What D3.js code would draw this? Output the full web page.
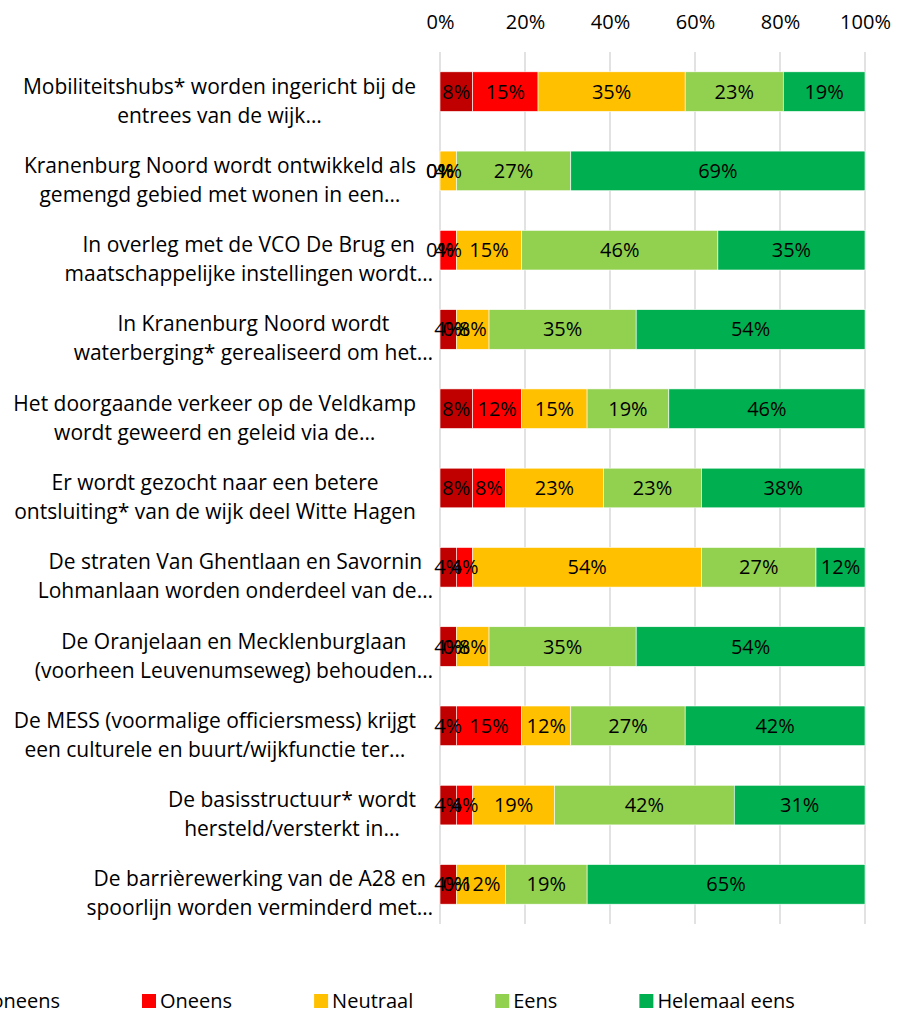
<!DOCTYPE html>
<html>
<head>
<meta charset="utf-8">
<script src="https://cdn.jsdelivr.net/npm/d3@7"></script>
<style>
  body { margin: 0; background: #fff; }
  svg { font-family: "Open Sans", Lato, sans-serif; }
</style>
</head>
<body>
<div id="container"></div>
<script>
/* DATA */
const categories = [
  ["Mobiliteitshubs* worden ingericht bij de", "entrees van de wijk…"],
  ["Kranenburg Noord wordt ontwikkeld als", "gemengd gebied met wonen in een…"],
  ["In overleg met de VCO De Brug en", "maatschappelijke instellingen wordt…"],
  ["In Kranenburg Noord wordt", "waterberging* gerealiseerd om het…"],
  ["Het doorgaande verkeer op de Veldkamp", "wordt geweerd en geleid via de…"],
  ["Er wordt gezocht naar een betere", "ontsluiting* van de wijk deel Witte Hagen"],
  ["De straten Van Ghentlaan en Savornin", "Lohmanlaan worden onderdeel van de…"],
  ["De Oranjelaan en Mecklenburglaan", "(voorheen Leuvenumseweg) behouden…"],
  ["De MESS (voormalige officiersmess) krijgt", "een culturele en buurt/wijkfunctie ter…"],
  ["De basisstructuur* wordt", "hersteld/versterkt in…"],
  ["De barrièrewerking van de A28 en", "spoorlijn worden verminderd met…"]
];
const seriesNames = ["Helemaal oneens", "Oneens", "Neutraal", "Eens", "Helemaal eens"];
const colors = ["#C00000", "#FF0000", "#FFC000", "#92D050", "#00B050"];

const helemaalOneens = [7.69, 0, 0, 3.85, 7.69, 7.69, 3.85, 3.85, 3.85, 3.85, 3.85];
const oneens         = [15.38, 0, 3.85, 0, 11.54, 7.69, 3.85, 0, 15.38, 3.85, 0];
const neutraal       = [34.62, 3.85, 15.38, 7.69, 15.38, 23.08, 53.85, 7.69, 11.54, 19.23, 11.54];
const eens           = [23.08, 26.92, 46.15, 34.62, 19.23, 23.08, 26.92, 34.62, 26.92, 42.31, 19.23];
const helemaalEens   = [19.23, 69.23, 34.62, 53.85, 46.15, 38.46, 11.54, 53.85, 42.31, 30.77, 65.38];

const tickValues = [0, 20, 40, 60, 80, 100];

/* CONSTANTS */
const width = 900, height = 1012;
const plotLeft = 440, plotRight = 865, plotTop = 52, plotBottom = 924;
const fontSize = 20;

const allSeries = [helemaalOneens, oneens, neutraal, eens, helemaalEens];
const rows = categories.map((c, i) => {
  const r = { idx: i };
  seriesNames.forEach((s, j) => r[s] = allSeries[j][i]);
  return r;
});

const svg = d3.select("#container").append("svg")
  .attr("width", width)
  .attr("height", height);

/* SCALES */
const xScale = d3.scaleLinear().domain([0, 100]).range([plotLeft, plotRight]);
const yScale = d3.scaleBand()
  .domain(rows.map(d => d.idx))
  .range([plotTop, plotBottom])
  .paddingInner(0.5)
  .paddingOuter(0.25);

// gridlines
svg.append("g").selectAll("line")
  .data(tickValues)
  .join("line")
  .attr("x1", d => xScale(d)).attr("x2", d => xScale(d))
  .attr("y1", plotTop).attr("y2", plotBottom)
  .attr("stroke", "#D9D9D9")
  .attr("stroke-width", 1.5);

// top axis
const xAxis = d3.axisTop(xScale)
  .tickValues(tickValues)
  .tickSize(0)
  .tickPadding(9)
  .tickFormat(d => d + "%");

svg.append("g")
  .attr("transform", "translate(0,38)")
  .call(xAxis)
  .call(g => g.select(".domain").remove())
  .selectAll("text")
  .attr("font-family", "'Open Sans', sans-serif")
  .attr("font-size", fontSize)
  .attr("fill", "#000");

/* BARS */
const stacked = d3.stack().keys(seriesNames)(rows);

const layers = svg.append("g").selectAll("g")
  .data(stacked)
  .join("g")
  .attr("fill", (d, i) => colors[i]);

layers.selectAll("rect")
  .data(d => d)
  .join("rect")
  .attr("x", d => xScale(d[0]))
  .attr("y", d => yScale(d.data.idx))
  .attr("width", d => xScale(d[1]) - xScale(d[0]))
  .attr("height", yScale.bandwidth())
  .attr("stroke", "#fff")
  .attr("stroke-width", 0.6);

// value labels
const labelLayers = svg.append("g").selectAll("g")
  .data(stacked)
  .join("g");

labelLayers.selectAll("text")
  .data(d => d)
  .join("text")
  .attr("x", d => xScale((d[0] + d[1]) / 2))
  .attr("y", d => yScale(d.data.idx) + yScale.bandwidth() / 2)
  .attr("dy", "0.35em")
  .attr("text-anchor", "middle")
  .attr("font-size", fontSize)
  .attr("fill", "#000")
  .text(d => Math.round(d[1] - d[0]) + "%");

/* CATEGORY LABELS */
const catG = svg.append("g");
categories.forEach((lines, i) => {
  const cy = yScale(i) + yScale.bandwidth() / 2;
  const g = catG.append("g");
  const texts = g.selectAll("text")
    .data(lines)
    .join("text")
    .attr("y", (d, k) => cy + 2 + k * 29)
    .attr("text-anchor", "middle")
    .attr("font-size", 21)
    .attr("fill", "#000")
    .text(d => d);
  let maxW = 0, maxIsCut = false;
  texts.each(function(d) {
    const w = this.getComputedTextLength();
    if (w > maxW) { maxW = w; maxIsCut = d.endsWith("…"); }
  });
  const right = maxIsCut ? 433 : 416;
  texts.attr("x", right - maxW / 2);
});

/* LEGEND */
const legend = svg.append("g").attr("transform", "translate(0,1001)");
const items = legend.selectAll("g")
  .data(seriesNames)
  .join("g");
items.append("rect")
  .attr("y", -7)
  .attr("width", 14)
  .attr("height", 14)
  .attr("fill", (d, i) => colors[i]);
items.append("text")
  .attr("x", 18)
  .attr("dy", "0.35em")
  .attr("font-size", fontSize)
  .attr("fill", "#000")
  .text(d => d);

const widths = [];
items.select("text").each(function() { widths.push(this.getComputedTextLength()); });
// second item (Oneens) starts at x=142, others flow around it
const gap = 82;
const xs = [];
xs[1] = 142;
xs[0] = xs[1] - gap - widths[0] - 18;
for (let i = 2; i < seriesNames.length; i++) xs[i] = xs[i - 1] + 18 + widths[i - 1] + gap;
items.attr("transform", (d, i) => `translate(${xs[i]},0)`);
</script>
</body>
</html>
